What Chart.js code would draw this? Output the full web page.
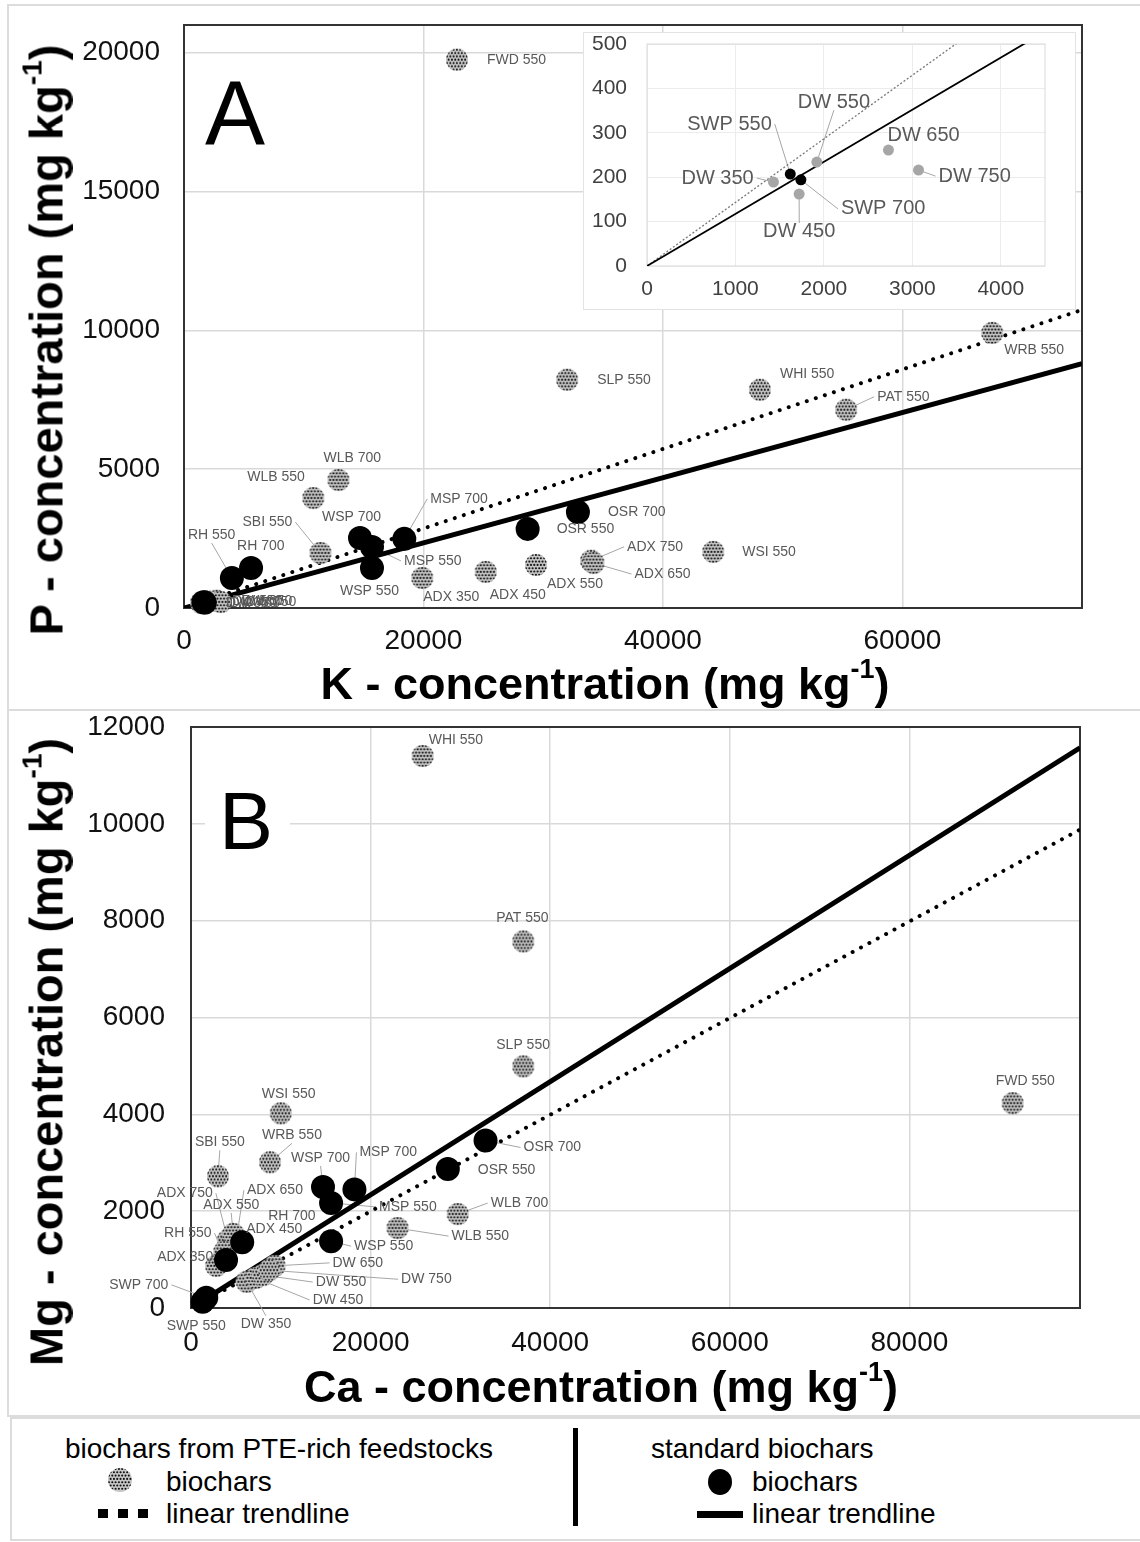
<!DOCTYPE html>
<html>
<head>
<meta charset="utf-8">
<script src="https://cdn.jsdelivr.net/npm/chart.js@4.4.1/dist/chart.umd.min.js"></script>
<style>
  body { margin: 0; background: #fff; }
  #page { position: relative; width: 1140px; height: 1542px; overflow: hidden;
          font-family: 'Liberation Sans', Arial, sans-serif; color: #000; }
  .box { position: absolute; border: 2px solid #dcdcdc; box-sizing: border-box; }
  .cbox { position: absolute; }
  .inset { background: #fff; border: 1px solid #e3e3e3; box-sizing: border-box; }
  .ytitle, .xtitle { position: absolute; font-weight: bold; font-size: 45px; line-height: 1;
                     white-space: nowrap; transform: translate(-50%, -50%); }
  .ytitle { font-size: 47px; transform: translate(-50%, -50%) rotate(-90deg); }
  sup { font-size: 0.6em; vertical-align: 0.75em; line-height: 0; }
  .letter { position: absolute; font-size: 90px; line-height: 90px; }
  .lg { position: absolute; font-size: 28px; line-height: 1; white-space: nowrap; transform: translateY(-50%); }
</style>
</head>
<body>
<div id="page">
  <div class="box" style="left:7px;top:4px;width:1140px;height:707px"></div>
  <div class="box" style="left:7px;top:709px;width:1140px;height:708px"></div>
  <div class="box" style="left:10px;top:1417px;width:1140px;height:124px"></div>

  <div class="cbox" style="left:8px;top:5px;width:1132px;height:705px"><canvas id="chartA"></canvas></div>
  <div class="cbox inset" style="left:583px;top:32px;width:493px;height:278px"><canvas id="chartInset"></canvas></div>
  <div class="letter" style="left:205px;top:68px">A</div>
  <div class="ytitle" style="left:46px;top:340px">P - concentration (mg kg<sup>-1</sup>)</div>
  <div class="xtitle" style="left:605px;top:683px">K - concentration (mg kg<sup>-1</sup>)</div>

  <div class="cbox" style="left:8px;top:712px;width:1132px;height:703px"><canvas id="chartB"></canvas></div>
  <div class="letter" style="left:205px;top:781px;font-size:81px;line-height:81px;padding:0 17px 0 14px;background:#fff">B</div>
  <div class="ytitle" style="left:46px;top:1052px">Mg - concentration (mg kg<sup>-1</sup>)</div>
  <div class="xtitle" style="left:601px;top:1386px">Ca - concentration (mg kg<sup>-1</sup>)</div>

  <!-- legend -->
  <div class="lg" style="left:65px;top:1449px">biochars from PTE-rich feedstocks</div>
  <div id="lgDot" style="position:absolute;left:107px;top:1467px"></div>
  <div class="lg" style="left:166px;top:1482px">biochars</div>
  <div style="position:absolute;left:98px;top:1509px;width:50px;height:9px;background:repeating-linear-gradient(90deg,#000 0 10px,transparent 10px 20px)"></div>
  <div class="lg" style="left:166px;top:1514px">linear trendline</div>
  <div style="position:absolute;left:573px;top:1428px;width:5px;height:98px;background:#000"></div>
  <div class="lg" style="left:651px;top:1449px">standard biochars</div>
  <div style="position:absolute;left:708px;top:1469px;width:24px;height:26px;border-radius:50%;background:#000"></div>
  <div class="lg" style="left:752px;top:1482px">biochars</div>
  <div style="position:absolute;left:697px;top:1511px;width:46px;height:7px;background:#000"></div>
  <div class="lg" style="left:752px;top:1514px">linear trendline</div>
</div>

<script>
(() => {
  "use strict";

  // ---------- data (mg kg-1) ----------
  const pteNames = ["FWD 550", "SLP 550", "WHI 550", "PAT 550", "WRB 550", "WSI 550",
                    "ADX 750", "ADX 650", "ADX 550", "ADX 450", "ADX 350",
                    "WLB 700", "WLB 550", "SBI 550",
                    "DW 350", "DW 450", "DW 550", "DW 650", "DW 750"];
  const pteK  = [22800, 32000, 48100, 55300, 67500, 44200, 34000, 34200, 29400, 25200, 19900, 12900, 10800, 11400, 1430, 1720, 1920, 2730, 3070];
  const pteP  = [19750, 8220, 7860, 7140, 9910, 2020, 1700, 1620, 1550, 1300, 1080, 4610, 3960, 1980, 189, 162, 234, 261, 216];
  const pteCa = [91500, 37000, 25800, 37000, 8800, 10000, 4100, 5000, 4700, 3700, 2800, 29700, 23000, 3000, 6200, 7200, 8000, 9300, 8700];
  const pteMg = [4230, 4990, 11400, 7570, 3010, 4020, 1400, 1360, 1530, 1160, 870, 1940, 1650, 2720, 540, 620, 680, 870, 780];

  const stdNames = ["RH 550", "RH 700", "SWP 550", "SWP 700", "WSP 700", "MSP 550", "WSP 550", "MSP 700", "OSR 550", "OSR 700"];
  const stdK  = [4000, 5600, 1620, 1740, 14700, 15700, 15700, 18400, 28700, 32900];
  const stdP  = [1080, 1440, 207, 194, 2520, 2200, 1440, 2490, 2850, 3460];
  const stdCa = [3900, 5700, 1300, 1700, 14700, 15600, 15600, 18200, 28600, 32800];
  const stdMg = [990, 1360, 130, 210, 2500, 2170, 1380, 2450, 2870, 3460];

  // linear trendlines through the origin (end points)
  const trendK = [0, 75000];
  const trendPteP = [0, 10740];
  const trendStdP = [0, 8800];
  const trendCa = [0, 99000];
  const trendPteMg = [0, 9880];
  const trendStdMg = [0, 11570];

  // axis ticks
  const ticksK = [0, 20000, 40000, 60000];
  const ticksP = [0, 5000, 10000, 15000, 20000];
  const ticksCa = [0, 20000, 40000, 60000, 80000];
  const ticksMg = [0, 2000, 4000, 6000, 8000, 10000, 12000];
  const ticksInsetK = [0, 1000, 2000, 3000, 4000];
  const ticksInsetP = [0, 100, 200, 300, 400, 500];

  // ---------- label placement (px from the point: dx to text start, dy, leader line) ----------
  const TAGS_A = {
    "FWD 550": [30, 0], "SLP 550": [30, 0], "WHI 550": [20, -16], "PAT 550": [31, -13, 1],
    "WRB 550": [12, 17], "WSI 550": [29, 0], "ADX 750": [36, -14, 1], "ADX 650": [41, 11, 1],
    "ADX 550": [11, 19], "ADX 450": [4, 23], "ADX 350": [1, 19], "WLB 700": [-15, -22],
    "WLB 550": [-66, -21], "SBI 550": [-78, -31, 1],
    "DW 350": [25, 0], "DW 450": [25, 0], "DW 550": [25, 0], "DW 650": [25, 0], "DW 750": [25, 0],
    "RH 550": [-44, -43, 1], "RH 700": [-14, -22], "WSP 700": [-38, -21], "MSP 550": [32, 14, 1],
    "WSP 550": [-32, 23], "MSP 700": [26, -40, 1], "OSR 550": [29, 0], "OSR 700": [30, 0]
  };
  const TAGS_INSET = {
    "DW 550": [-19, -60, 1], "SWP 550": [-103, -50, 1], "DW 350": [-92, -4, 1], "DW 650": [-1, -15],
    "DW 750": [20, 6, 1], "SWP 700": [40, 29, 1], "DW 450": [-36, 37, 1]
  };
  const TAGS_B = {
    "WHI 550": [6, -16], "PAT 550": [-27, -23], "SLP 550": [-27, -21], "FWD 550": [-17, -22],
    "WSI 550": [-19, -19], "SBI 550": [-23, -34, 1], "WRB 550": [-8, -27, 1], "WSP 700": [-32, -29, 1],
    "MSP 700": [5, -37, 1], "MSP 550": [48, 4, 1], "WSP 550": [23, 5, 1], "WLB 700": [33, -11, 1],
    "WLB 550": [54, 8, 1], "OSR 700": [38, 7, 1], "OSR 550": [30, 1],
    "DW 350": [-6, 42, 1], "DW 450": [57, 22, 1], "DW 550": [53, 7, 1], "DW 650": [58, -3, 1], "DW 750": [132, 9, 1],
    "SWP 700": [-97, -13, 1], "SWP 550": [-36, 24],
    "ADX 750": [-71, -47, 1], "ADX 550": [-30, -29, 1], "ADX 650": [11, -52, 1], "ADX 450": [22, -23, 1],
    "ADX 350": [-59, -9, 1], "RH 700": [26, -26], "RH 550": [-62, -27, 1]
  };

  const FONT = "'Liberation Sans', Arial, sans-serif";
  const pairs = (xs, ys) => xs.map((x, i) => ({ x, y: ys[i] }));

  // ---------- marker: grey disc with a dot screen ----------
  function texturedDot(r) {
    const c = document.createElement("canvas");
    const s = Math.ceil(r * 2 + 2);
    c.width = c.height = s;
    const g = c.getContext("2d");
    const m = s / 2;
    g.beginPath(); g.arc(m, m, r, 0, Math.PI * 2);
    g.fillStyle = "#c6c6c6"; g.fill();
    g.save(); g.clip();
    g.fillStyle = "#111";
    let row = 0;
    for (let y = m - r + 1; y <= m + r; y += 3.3, row++) {
      for (let x = m - r + 1 + (row % 2) * 1.65; x <= m + r; x += 3.3) {
        g.beginPath(); g.arc(x, y, 1.05, 0, Math.PI * 2); g.fill();
      }
    }
    g.restore();
    return c;
  }

  // ---------- plugins ----------
  const framePlugin = {
    id: "frame",
    beforeDatasetsDraw(chart, args, o) {
      const { left, top, right, bottom } = chart.chartArea;
      const ctx = chart.ctx;
      ctx.save();
      ctx.strokeStyle = o.color; ctx.lineWidth = o.width;
      ctx.strokeRect(left, top, right - left, bottom - top);
      ctx.restore();
    }
  };

  function drawTags(chart, o, leaders) {
    const ctx = chart.ctx;
    ctx.save();
    ctx.font = o.font;
    ctx.fillStyle = o.color;
    ctx.strokeStyle = o.lineColor;
    ctx.lineWidth = 1;
    ctx.textBaseline = "middle";
    ctx.textAlign = "left";
    chart.data.datasets.forEach((ds, i) => {
      if (!ds.tags) return;
      chart.getDatasetMeta(i).data.forEach((pt, j) => {
        const name = ds.tags[j];
        const off = o.offsets[name];
        if (!off) return;
        const tx = pt.x + off[0], ty = pt.y + off[1];
        if (!leaders) { ctx.fillText(name, tx, ty); return; }
        if (!off[2]) return;
        const w = ctx.measureText(name).width;
        let ax, ay = ty;
        if (tx > pt.x + 2) ax = tx - 3;
        else if (tx + w < pt.x - 2) ax = tx + w + 3;
        else { ax = tx + w / 2; ay = ty + (off[1] < 0 ? 8 : -8); }
        ctx.beginPath(); ctx.moveTo(pt.x, pt.y); ctx.lineTo(ax, ay); ctx.stroke();
      });
    });
    ctx.restore();
  }
  const tagPlugin = {
    id: "tags",
    beforeDatasetsDraw(chart, args, o) { drawTags(chart, o, true); },
    afterDatasetsDraw(chart, args, o) { drawTags(chart, o, false); }
  };

  Chart.defaults.font.family = FONT;
  Chart.defaults.animation = false;
  Chart.defaults.events = [];

  // linear axis with fixed tick list and fixed thickness (no label overhang padding)
  function axis(min, max, tickList, o) {
    return {
      type: "linear", min, max,
      ticks: { autoSkip: false, maxRotation: 0, padding: o.pad, color: o.color, font: { size: o.size },
               callback: v => String(v) },
      grid: { color: o.grid, lineWidth: o.gridW, drawTicks: false },
      border: { display: false },
      afterBuildTicks: s => { s.ticks = tickList.map(v => ({ value: v })); },
      afterFit: s => {
        if (o.height != null) s.height = o.height;
        if (o.width != null) s.width = o.width;
        s.paddingTop = 0; s.paddingBottom = 0; s.paddingLeft = 0; s.paddingRight = 0;
      }
    };
  }

  function mainChart(id, xs, ys, tags, trend, ax) {
    const dot = texturedDot(11);
    return new Chart(document.getElementById(id), {
      type: "scatter",
      data: {
        datasets: [
          { label: "standard biochars", data: pairs(xs.std, ys.std), tags: stdNames,
            pointRadius: 12, backgroundColor: "#000", borderWidth: 0, clip: false },
          { label: "biochars from PTE-rich feedstocks", data: pairs(xs.pte, ys.pte), tags: pteNames,
            pointStyle: dot, pointRadius: 11, clip: false },
          { label: "standard trendline", data: pairs(trend.x, trend.std), showLine: true,
            borderColor: "#000", borderWidth: 5, pointRadius: 0 },
          { label: "PTE-rich trendline", data: pairs(trend.x, trend.pte), showLine: true,
            borderColor: "#000", borderWidth: 4, borderDash: [0.01, 9.5], borderCapStyle: "round", pointRadius: 0 }
        ]
      },
      plugins: [framePlugin, tagPlugin],
      options: {
        responsive: true, maintainAspectRatio: false, devicePixelRatio: 1,
        layout: { padding: ax.padding },
        scales: {
          x: axis(0, ax.xMax, ax.xTicks, { pad: ax.xPad, color: "#111", size: 28, grid: "#d9d9d9", gridW: 1.5, height: ax.xH }),
          y: axis(0, ax.yMax, ax.yTicks, { pad: ax.yPad, color: "#111", size: 28, grid: "#d9d9d9", gridW: 1.5, width: ax.yW })
        },
        plugins: {
          legend: { display: false }, tooltip: { enabled: false },
          frame: { color: "#333", width: 2 },
          tags: { font: "14px " + FONT, color: "#595959", lineColor: "#a6a6a6", offsets: tags }
        }
      }
    });
  }

  mainChart("chartA", { pte: pteK, std: stdK }, { pte: pteP, std: stdP }, TAGS_A,
    { x: trendK, pte: trendPteP, std: trendStdP },
    { padding: { top: 20, right: 58, left: 0, bottom: 0 }, xMax: 75000, xTicks: ticksK, yMax: 21000, yTicks: ticksP,
      xPad: 16, yPad: 24, xH: 102, yW: 176 });

  mainChart("chartB", { pte: pteCa, std: stdCa }, { pte: pteMg, std: stdMg }, TAGS_B,
    { x: trendCa, pte: trendPteMg, std: trendStdMg },
    { padding: { top: 15, right: 60, left: 0, bottom: 0 }, xMax: 99000, xTicks: ticksCa, yMax: 12000, yTicks: ticksMg,
      xPad: 18, yPad: 26, xH: 107, yW: 183 });

  // ---------- inset: low range of panel A ----------
  new Chart(document.getElementById("chartInset"), {
    type: "scatter",
    data: {
      datasets: [
        { label: "standard", data: pairs(stdK, stdP), tags: stdNames, pointRadius: 5.5, backgroundColor: "#000", borderWidth: 0 },
        { label: "PTE-rich", data: pairs(pteK, pteP), tags: pteNames, pointRadius: 5.5, backgroundColor: "#a6a6a6", borderWidth: 0 },
        { label: "standard trendline", data: pairs(trendK, trendStdP), showLine: true, borderColor: "#000", borderWidth: 1.8, pointRadius: 0 },
        { label: "PTE-rich trendline", data: pairs(trendK, trendPteP), showLine: true, borderColor: "#777", borderWidth: 1.3,
          borderDash: [2, 2], pointRadius: 0 }
      ]
    },
    plugins: [framePlugin, tagPlugin],
    options: {
      responsive: true, maintainAspectRatio: false, devicePixelRatio: 1,
      layout: { padding: { top: 11, right: 30, left: 0, bottom: 0 } },
      scales: {
        x: axis(0, 4500, ticksInsetK, { pad: 11, color: "#404040", size: 21, grid: "#ececec", gridW: 1, height: 43 }),
        y: axis(0, 500, ticksInsetP, { pad: 20, color: "#404040", size: 21, grid: "#ececec", gridW: 1, width: 63 })
      },
      plugins: {
        legend: { display: false }, tooltip: { enabled: false },
        frame: { color: "#d9d9d9", width: 1 },
        tags: { font: "20px " + FONT, color: "#595959", lineColor: "#a6a6a6", offsets: TAGS_INSET }
      }
    }
  });

  // legend marker
  document.getElementById("lgDot").appendChild(texturedDot(12));
})();
</script>
</body>
</html>
